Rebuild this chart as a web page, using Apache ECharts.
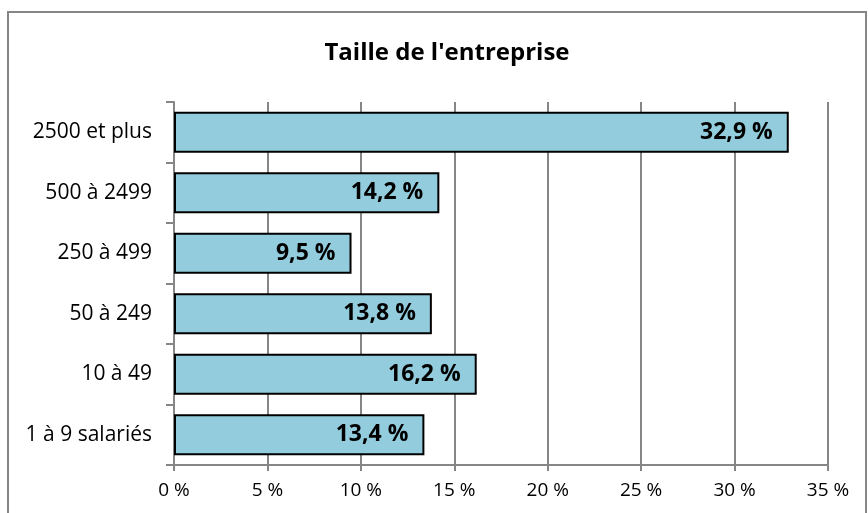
<!DOCTYPE html>
<html>
<head>
<meta charset="utf-8">
<script src="https://cdn.jsdelivr.net/npm/echarts@6/dist/echarts.min.js"></script>
<style>
  html, body { margin: 0; padding: 0; background: #fff; }
  #chart { width: 868px; height: 513px; }
</style>
</head>
<body>
<div id="chart"></div>
<script>
const categories = ['1 à 9 salariés', '10 à 49', '50 à 249', '250 à 499', '500 à 2499', '2500 et plus'];
const values = [13.4, 16.2, 13.8, 9.5, 14.2, 32.9];
const xTicks = [0, 5, 10, 15, 20, 25, 30, 35];

const myChart = echarts.init(document.getElementById('chart'));
const font = '"Open Sans", sans-serif';
const option = {
  animation: false,
  textStyle: { fontFamily: font },
  // cadre gris autour du graphique
  graphic: [{
    type: 'rect',
    shape: { x: 8, y: 12, width: 858, height: 520 },
    style: { fill: 'none', stroke: '#868686', lineWidth: 2 },
    silent: true
  }],
  title: {
    text: "Taille de l'entreprise",
    left: 442,
    textAlign: 'center',
    top: 36,
    textStyle: { fontSize: 24, fontWeight: 'bold', color: '#000', fontFamily: font }
  },
  grid: { left: 174, right: 40, top: 102, bottom: 48 },
  xAxis: {
    type: 'value',
    min: xTicks[0],
    max: xTicks[xTicks.length - 1],
    interval: 5,
    axisLine: { show: true, lineStyle: { color: '#868686', width: 2 } },
    axisTick: { show: true, length: 6, lineStyle: { color: '#868686', width: 2 } },
    splitLine: { show: true, lineStyle: { color: '#868686', width: 2 } },
    axisLabel: {
      formatter: v => v + ' %',
      fontSize: 19, color: '#000', margin: 16, fontFamily: font
    }
  },
  yAxis: {
    type: 'category',
    data: categories,
    axisLine: { show: true, lineStyle: { color: '#868686', width: 2 } },
    axisTick: { show: true, length: 8, lineStyle: { color: '#868686', width: 2 } },
    axisLabel: { fontSize: 21, color: '#000', margin: 22, fontFamily: font }
  },
  series: [{
    type: 'bar',
    data: values,
    barCategoryGap: '32%',
    itemStyle: { color: '#93CDDD', borderColor: '#000', borderWidth: 2 },
    label: {
      show: true,
      position: 'insideRight',
      distance: 16,
      formatter: p => String(p.value).replace('.', ',') + ' %',
      fontSize: 23, fontWeight: 'bold', color: '#000', fontFamily: font
    }
  }]
};
myChart.setOption(option);
</script>
</body>
</html>
